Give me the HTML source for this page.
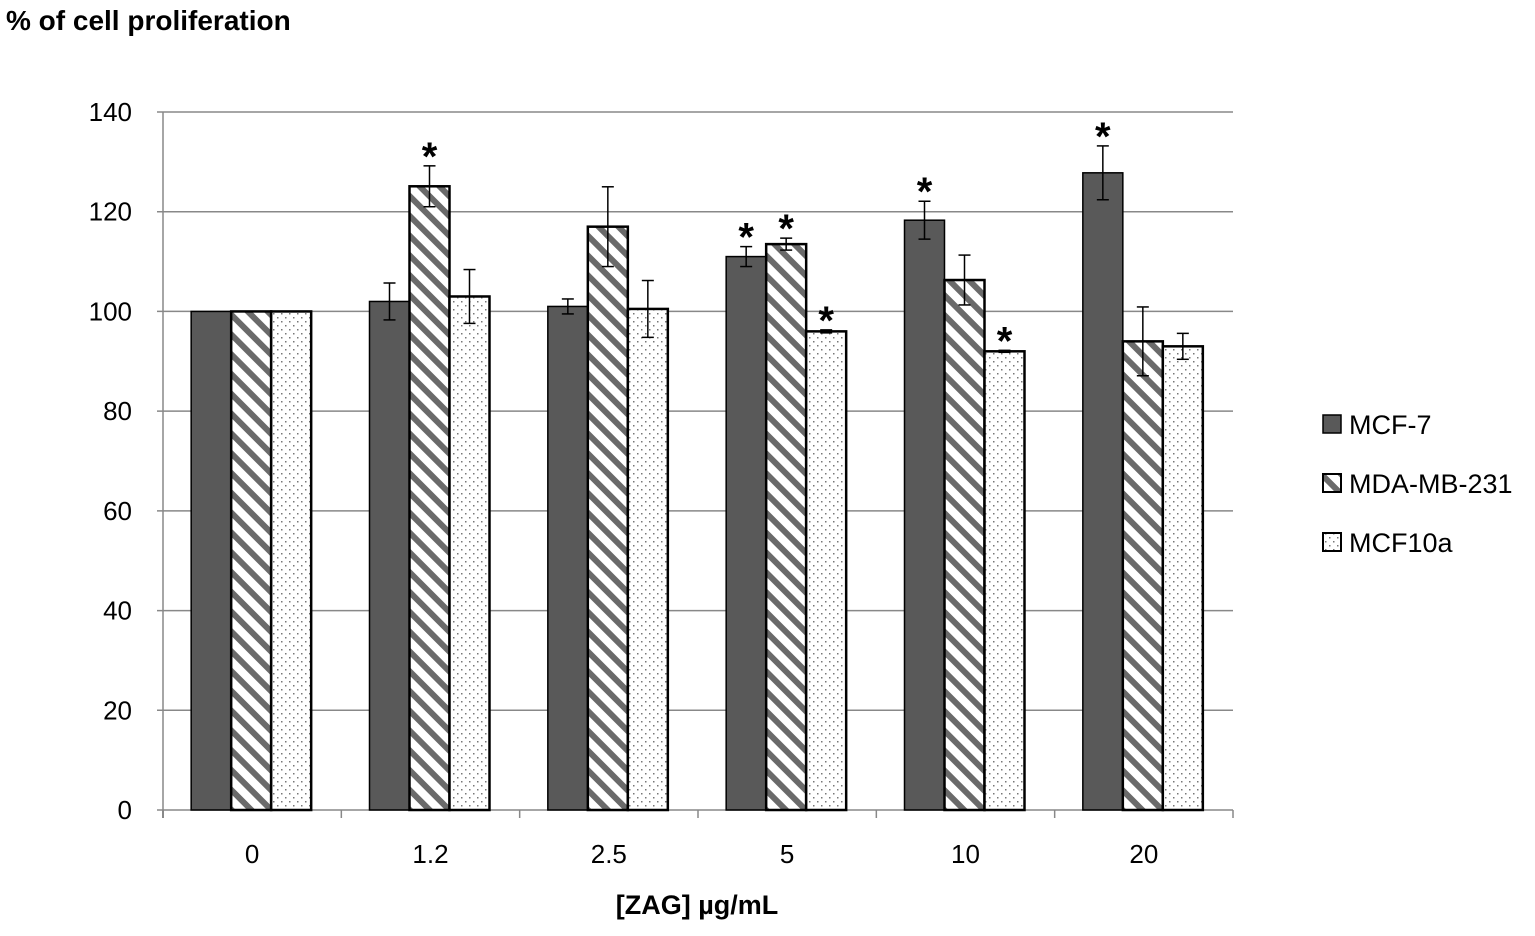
<!DOCTYPE html>
<html><head><meta charset="utf-8"><style>
body{margin:0;background:#fff;font-family:"Liberation Sans",sans-serif}
svg text{font-family:"Liberation Sans",sans-serif}
</style></head><body>
<svg width="1535" height="931">
<defs>
<pattern id="diag" width="14" height="14" patternUnits="userSpaceOnUse" patternTransform="rotate(45)">
<rect width="14" height="14" fill="#fff"/><rect width="14" height="6" fill="#6a6a6a"/>
</pattern>
<pattern id="dots" width="8" height="8" patternUnits="userSpaceOnUse">
<rect width="8" height="8" fill="#fff"/><rect x="1" y="1" width="1.5" height="1.5" fill="#777"/><rect x="5" y="5" width="1.5" height="1.5" fill="#777"/>
</pattern>
</defs>
<text x="6" y="30" font-size="28" font-weight="bold">% of cell proliferation</text>
<g id="grid"></g>
<g id="bars"></g>
<text x="697" y="914" font-size="27" font-weight="bold" text-anchor="middle">[ZAG] µg/mL</text>
<g>
<g><rect x="1323" y="415" width="18" height="18" fill="#595959" stroke="#000" stroke-width="1.5"/><text x="1349" y="434" font-size="27">MCF-7</text></g>
<g><rect x="1323" y="474" width="18" height="18" fill="url(#diag)" stroke="#000" stroke-width="2"/><text x="1349" y="493" font-size="27">MDA-MB-231</text></g>
<g><rect x="1323" y="533" width="18" height="18" fill="url(#dots)" stroke="#000" stroke-width="2"/><text x="1349" y="552" font-size="27">MCF10a</text></g>
</g>
</svg>
<script>
const categories=["0","1.2","2.5","5","10","20"];
const mcf7=[100,102,101,111,118.3,127.8];
const mda=[100,125.1,117,113.5,106.3,94];
const mcf10a=[100,103,100.5,96,92,93];
const mcf7Err=[0,3.7,1.5,2,3.8,5.4];
const mdaErr=[0,4.1,8,1.2,5,6.9];
const mcf10aErr=[0,5.4,5.7,0.3,0.2,2.6];
const mcf7Star=[0,0,0,1,1,1];
const mdaStar=[0,1,0,1,0,0];
const mcf10aStar=[0,0,0,1,1,0];
const yTicks=[0,20,40,60,80,100,120,140];
const NS="http://www.w3.org/2000/svg";
const x0=163,x1=1233,yb=810,yt=112;
const y=v=>yb-(v/140)*(yb-yt);
const gw=(x1-x0)/categories.length;
const xc=i=>x0+gw*(i+0.5);
function mk(t,a,p){const e=document.createElementNS(NS,t);for(const k in a)e.setAttribute(k,a[k]);p.appendChild(e);return e;}
const grid=document.getElementById('grid'),bars=document.getElementById('bars');
yTicks.forEach(v=>{
const l=mk('line',{x1:x0-6,x2:x1,y1:y(v),y2:y(v),stroke:'#888','stroke-width':1.5},grid);


const t=mk('text',{x:132,y:y(v)+9,'font-size':26,'text-anchor':'end'},grid);t.textContent=v;


});
mk('line',{x1:x0,x2:x0,y1:yt,y2:yb,stroke:'#888','stroke-width':1.5},grid);
categories.forEach((c,i)=>{
mk('line',{x1:x0+gw*(i+1),x2:x0+gw*(i+1),y1:yb,y2:yb+8,stroke:'#888','stroke-width':1.5},grid);
mk('line',{x1:x0,x2:x0,y1:yb,y2:yb+8,stroke:'#888','stroke-width':1.5},grid);
const t=mk('text',{x:xc(i),y:863,'font-size':26,'text-anchor':'middle'},grid);t.textContent=c;


});
const series=[[mcf7,mcf7Err,mcf7Star,'#595959',1.5,'mcf7'],[mda,mdaErr,mdaStar,'url(#diag)',2.5,'mda'],[mcf10a,mcf10aErr,mcf10aStar,'url(#dots)',2.5,'mcf10a']];
const bw=40;
series.forEach((s,si)=>{
s[0].forEach((v,i)=>{
const bx=xc(i)-bw*1.5+si*bw-1;
const r=mk('rect',{x:bx,y:y(v),width:bw,height:yb-y(v),fill:s[3],stroke:'#000','stroke-width':s[4]},bars);


const e=s[1][i],cx=bx+bw/2;
if(e>0){
mk('line',{x1:cx,x2:cx,y1:y(v+e),y2:y(v-e),stroke:'#000','stroke-width':1.5},bars);
mk('line',{x1:cx-6,x2:cx+6,y1:y(v+e),y2:y(v+e),stroke:'#000','stroke-width':1.5},bars);
mk('line',{x1:cx-6,x2:cx+6,y1:y(v-e),y2:y(v-e),stroke:'#000','stroke-width':1.5},bars);
}
if(s[2][i]){
const t=mk('text',{x:cx,y:y(v+e)+4,'font-size':40,'font-weight':'bold','text-anchor':'middle'},bars);t.textContent='*';


}
});
});
</script>
</body></html>
